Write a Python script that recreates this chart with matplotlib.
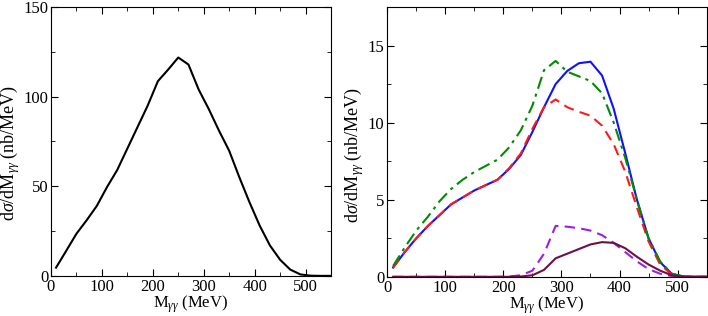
import matplotlib
matplotlib.use("Agg")
import matplotlib.pyplot as plt
from matplotlib.ticker import MultipleLocator

plt.rcParams['font.family'] = ['Liberation Serif', 'DejaVu Serif']
plt.rcParams['mathtext.fontset'] = 'custom'
plt.rcParams['mathtext.rm'] = 'Liberation Serif'
plt.rcParams['mathtext.it'] = 'Liberation Serif:italic'

# left panel
m_left = [10, 30, 50, 70, 90, 110, 130, 150, 170, 190, 210, 230, 250, 270, 290,
          310, 330, 350, 370, 390, 410, 430, 450, 470, 490, 510, 530, 550]
xs_left = [4.6, 14, 23.5, 31, 39, 49.5, 59, 71, 83, 95, 108.6, 115, 121.8, 117.9, 104,
           93, 81, 69.8, 55, 41, 28, 17, 9, 3.5, 0.8, 0.1, 0, 0]

# right panel
m_right = [10, 30, 50, 70, 90, 110, 130, 150, 170, 190, 210, 230, 250, 270, 290,
           310, 330, 350, 370, 390, 410, 430, 450, 470, 490, 510, 530, 550]
blue = [0.6, 1.6, 2.5, 3.3, 4.0, 4.7, 5.15, 5.6, 5.95, 6.3, 7.0, 7.9, 9.4, 11.0, 12.5,
        13.35, 13.85, 13.95, 13.05, 10.9, 8.0, 5.0, 2.5, 0.95, 0.2, 0.02, 0, 0]
red = [0.6, 1.6, 2.5, 3.3, 4.0, 4.7, 5.15, 5.6, 5.95, 6.3, 7.05, 8.0, 9.6, 11.0, 11.5,
       11.0, 10.7, 10.45, 9.8, 8.6, 6.8, 4.5, 2.3, 0.8, 0.15, 0.02, 0, 0]
green = [0.7, 1.9, 3.0, 3.9, 4.9, 5.7, 6.3, 6.8, 7.2, 7.6, 8.4, 9.5, 11.1, 13.4, 14.0,
         13.3, 13.0, 12.7, 11.9, 10.0, 7.7, 5.0, 2.5, 1.0, 0.2, 0.02, 0, 0]
violet = [0, 0, 0, 0, 0, 0, 0, 0, 0, 0, 0.02, 0.1, 0.4, 1.5, 3.3,
          3.25, 3.15, 3.0, 2.7, 2.2, 1.6, 1.0, 0.5, 0.2, 0.05, 0, 0, 0]
maroon = [0, 0, 0, 0, 0, 0, 0, 0, 0, 0, 0, 0.02, 0.1, 0.45, 1.2,
          1.5, 1.8, 2.1, 2.25, 2.2, 1.85, 1.3, 0.8, 0.4, 0.1, 0.01, 0, 0]

ylabel = r'd$\sigma$/dM$_{\gamma\gamma}$ (nb/MeV)'
xlabel = r'M$_{\gamma\gamma}$ (MeV)'

fig = plt.figure(figsize=(7.08, 3.16), dpi=100)
ax1 = fig.add_axes([0.072, 0.127, 0.3955, 0.851])
ax2 = fig.add_axes([0.547, 0.124, 0.451, 0.854])

ax1.plot(m_left, xs_left, color='black', lw=1.5)
ax1.set_xlim(0, 550)
ax1.set_ylim(0, 150)
ax1.xaxis.set_major_locator(MultipleLocator(100))
ax1.xaxis.set_minor_locator(MultipleLocator(50))
ax1.yaxis.set_major_locator(MultipleLocator(50))
ax1.yaxis.set_minor_locator(MultipleLocator(25))
ax1.set_ylabel(ylabel, fontsize=13)
ax1.set_xlabel(xlabel, fontsize=12, labelpad=-1)
ax1.yaxis.set_label_coords(-0.102, 0.457)

ax2.plot(m_right, blue, color='#1010ff', lw=1.5)
ax2.plot(m_right, red, color='#ff1a1a', lw=1.5, ls=(0, (5, 3)))
ax2.plot(m_right, green, color='#008c00', lw=1.5, ls=(0, (6, 2.5, 1.5, 2.5)))
ax2.plot(m_right, violet, color='#9a1ee6', lw=1.5, ls=(0, (5, 3)))
ax2.plot(m_right, maroon, color='#6e1048', lw=1.5)
ax2.set_xlim(0, 550)
ax2.set_ylim(0, 17.5)
ax2.xaxis.set_major_locator(MultipleLocator(100))
ax2.xaxis.set_minor_locator(MultipleLocator(50))
ax2.yaxis.set_major_locator(MultipleLocator(5))
ax2.yaxis.set_minor_locator(MultipleLocator(2.5))
ax2.set_ylabel(ylabel, fontsize=13)
ax2.set_xlabel(xlabel, fontsize=12, labelpad=-1)
ax2.yaxis.set_label_coords(-0.068, 0.452)

for ax in (ax1, ax2):
    ax.tick_params(which='both', direction='in', top=True, right=True, labelsize=12, pad=2)
    ax.tick_params(which='major', length=5)
    ax.tick_params(which='minor', length=3)

fig.savefig('out.png', dpi=100)
